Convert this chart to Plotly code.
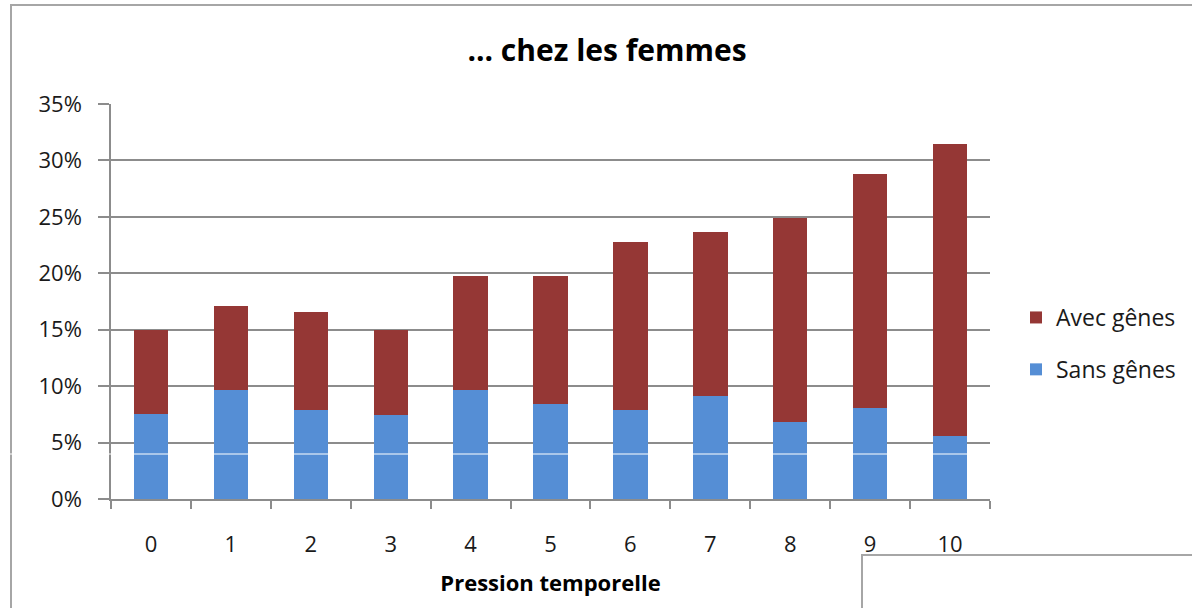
import plotly.graph_objects as go

categories = ["0", "1", "2", "3", "4", "5", "6", "7", "8", "9", "10"]
totals = [15.0, 17.1, 16.6, 15.0, 19.8, 19.8, 22.8, 23.7, 24.9, 28.8, 31.5]
sans_genes = [7.5, 9.7, 7.9, 7.4, 9.7, 8.4, 7.9, 9.1, 6.8, 8.1, 5.6]
avec_genes = [round(t - s, 2) for t, s in zip(totals, sans_genes)]
y_ticks = [0, 5, 10, 15, 20, 25, 30, 35]
y_labels = [f"{v}%" for v in y_ticks]

BLUE = "#558ED5"
RED = "#953735"
GRID = "#8c8c8c"
FONT = "Open Sans"

W, H = 1192, 608
# plot area in screen pixels
L, R, T, B = 111, 990, 104, 499

def px(x):
    return (x - L) / (R - L)

def py(y):
    return (B - y) / (B - T)

fig = go.Figure()
fig.add_trace(go.Bar(x=categories, y=sans_genes, name="Sans gênes",
                     marker=dict(color=BLUE, line=dict(width=0)),
                     width=0.43, legendgroup="s", legendrank=2))
fig.add_trace(go.Bar(x=categories, y=avec_genes, name="Avec gênes",
                     marker=dict(color=RED, line=dict(width=0)),
                     width=0.43, legendgroup="a", legendrank=1))

shapes = [
    dict(type="rect", xref="paper", yref="paper", x0=px(11), x1=px(1230),
         y0=py(5), y1=py(640), line=dict(color="#a6a6a6", width=2), layer="below"),
    dict(type="rect", xref="paper", yref="paper", x0=px(862), x1=px(1230),
         y0=py(555), y1=py(640), line=dict(color="#a6a6a6", width=2), layer="above"),
    dict(type="line", xref="paper", yref="paper", x0=px(0), x1=px(1192),
         y0=py(454), y1=py(454), line=dict(color="white", width=1), layer="above"),
]

fig.update_layout(
    width=W, height=H,
    margin=dict(l=L, r=W - R, t=T, b=H - B, autoexpand=False),
    paper_bgcolor="white", plot_bgcolor="white",
    barmode="stack",
    title=dict(text="<b>... chez les femmes</b>", x=px(607), xref="paper",
               xanchor="center", y=1 - 50 / H, yanchor="middle",
               font=dict(family=FONT, size=30, color="#000000")),
    font=dict(family=FONT, size=22, color="#1a1a1a"),
    showlegend=True,
    legend=dict(x=px(1016), xanchor="left", y=py(343.5), yanchor="middle",
                traceorder="grouped", tracegroupgap=19,
                font=dict(family=FONT, size=23, color="#1a1a1a"),
                itemwidth=30, bgcolor="rgba(0,0,0,0)"),
    shapes=shapes,
    xaxis=dict(type="category", range=[-0.5, 10.5], showgrid=False,
               showline=True, linecolor=GRID, linewidth=1.5,
               ticks="outside", tickson="boundaries", ticklen=8, tickcolor=GRID,
               tickwidth=1.5, ticklabelstandoff=25,
               tickfont=dict(family=FONT, size=22, color="#1a1a1a"),
               title=dict(text="<b>Pression temporelle</b>", standoff=18,
                          font=dict(family=FONT, size=22, color="#000000"))),
    yaxis=dict(range=[0, 35], tickmode="array", tickvals=y_ticks, ticktext=y_labels,
               showgrid=True, gridcolor=GRID, gridwidth=1.5,
               showline=True, linecolor=GRID, linewidth=1.5,
               ticks="outside", ticklen=11, tickcolor=GRID, tickwidth=1.5,
               ticklabelstandoff=12, zeroline=False,
               tickfont=dict(family=FONT, size=22, color="#1a1a1a")),
)

fig.write_html("out.html",
               config={"displayModeBar": False},
               post_script="document.body.style.margin='0';document.body.style.overflow='hidden';")
